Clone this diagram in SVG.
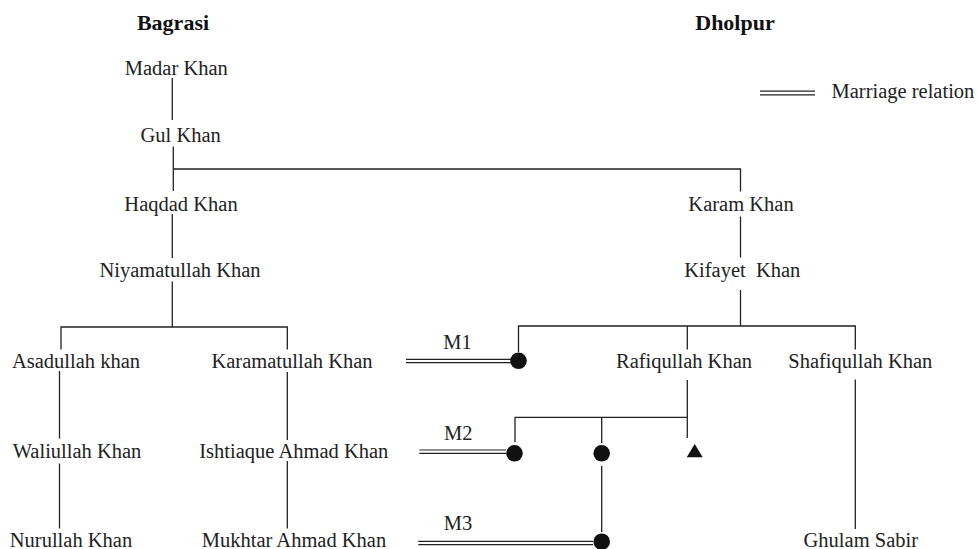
<svg xmlns="http://www.w3.org/2000/svg" width="977" height="549" viewBox="0 0 977 549">
  <style>
    .name { font-family: "Liberation Serif", "Times New Roman", serif; font-size: 20.5px; fill: #222; text-anchor: middle; }
    .title { font-family: "Liberation Serif", "Times New Roman", serif; font-size: 22px; font-weight: bold; fill: #111; text-anchor: middle; }
    .lab { font-family: "Liberation Serif", "Times New Roman", serif; font-size: 20.5px; fill: #222; }
    .link { stroke: #222; stroke-width: 1.3; fill: none; }
    .marr { stroke: #222; stroke-width: 1.2; fill: none; }
    .dot { fill: #111; }
  </style>
  <rect width="977" height="549" fill="#fff"/>

  <!-- column headings -->
  <text class="title" x="173" y="30">Bagrasi</text>
  <text class="title" x="735" y="30">Dholpur</text>

  <!-- legend -->
  <g id="legend">
    <line class="marr" x1="760" y1="91.2" x2="815" y2="91.2"/>
    <line class="marr" x1="760" y1="94.8" x2="815" y2="94.8"/>
    <text class="lab" x="831.5" y="97.5">Marriage relation</text>
  </g>

  <!-- descent lines and marriage links -->
  <g id="connectors">
    <path class="link" d="M172.3 78 V120"/>
    <path class="link" d="M173.3 146.5 V191"/>
    <path class="link" d="M173.3 169 H740.5 V191.5"/>
    <path class="link" d="M740.5 216.5 V257.5"/>
    <path class="link" d="M740.5 290 V326"/>
    <path class="link" d="M172.3 214 V258"/>
    <path class="link" d="M172.3 281.5 V327"/>
    <path class="link" d="M61 349.5 V327 H287.3 V349.5"/>
    <path class="link" d="M518.5 352 V326 H855.3 V349.5"/>
    <path class="link" d="M687.3 326 V349.5"/>
    <path class="link" d="M59.5 371 V438.5"/>
    <path class="link" d="M59.5 463.5 V528.5"/>
    <path class="link" d="M287.3 372 V440"/>
    <path class="link" d="M287.3 461 V528.5"/>
    <path class="link" d="M855.3 379.5 V529"/>
    <path class="link" d="M687.3 380 V438"/>
    <path class="link" d="M515 442 V417.3 H687.3"/>
    <path class="link" d="M601.7 417.3 V443"/>
    <path class="link" d="M601.7 466 V532"/>
    <!-- M1 -->
    <line class="marr" x1="406" y1="359.3" x2="511" y2="359.3"/>
    <line class="marr" x1="406" y1="362.7" x2="511" y2="362.7"/>
    <text class="lab" x="457.5" y="348.5" text-anchor="middle">M1</text>
    <!-- M2 -->
    <line class="marr" x1="419.3" y1="450" x2="506" y2="450"/>
    <line class="marr" x1="419.3" y1="453.4" x2="506" y2="453.4"/>
    <text class="lab" x="458.3" y="440" text-anchor="middle">M2</text>
    <!-- M3 -->
    <line class="marr" x1="418.3" y1="541.3" x2="593" y2="541.3"/>
    <line class="marr" x1="418.3" y1="544.7" x2="593" y2="544.7"/>
    <text class="lab" x="458" y="530" text-anchor="middle">M3</text>
  </g>

  <!-- Bagrasi line -->
  <g id="madar-khan"><text class="name" x="176.3" y="75">Madar Khan</text></g>
  <g id="gul-khan"><text class="name" x="180.7" y="142">Gul Khan</text></g>
  <g id="haqdad-khan"><text class="name" x="181" y="210.5">Haqdad Khan</text></g>
  <g id="niyamatullah-khan"><text class="name" x="180" y="277">Niyamatullah Khan</text></g>
  <g id="asadullah-khan"><text class="name" x="76" y="367.7">Asadullah khan</text></g>
  <g id="karamatullah-khan"><text class="name" x="292" y="367.7">Karamatullah Khan</text></g>
  <g id="waliullah-khan"><text class="name" x="77" y="458">Waliullah Khan</text></g>
  <g id="ishtiaque-ahmad-khan"><text class="name" x="293.8" y="458">Ishtiaque Ahmad Khan</text></g>
  <g id="nurullah-khan"><text class="name" x="71" y="546.5">Nurullah Khan</text></g>
  <g id="mukhtar-ahmad-khan"><text class="name" x="294" y="546.5">Mukhtar Ahmad Khan</text></g>

  <!-- Dholpur line -->
  <g id="karam-khan"><text class="name" x="741" y="210.5">Karam Khan</text></g>
  <g id="kifayet-khan"><text class="name" x="742.3" y="277" xml:space="preserve">Kifayet  Khan</text></g>
  <g id="rafiqullah-khan"><text class="name" x="684" y="367.7">Rafiqullah Khan</text></g>
  <g id="shafiqullah-khan"><text class="name" x="860.3" y="367.7">Shafiqullah Khan</text></g>
  <g id="ghulam-sabir"><text class="name" x="860.8" y="546.5">Ghulam Sabir</text></g>

  <!-- daughters (filled circles) and son (filled triangle) -->
  <g id="daughter-m1"><circle class="dot" cx="518.5" cy="360.8" r="8.3"/></g>
  <g id="daughter-m2"><circle class="dot" cx="514.5" cy="453.3" r="8.3"/></g>
  <g id="daughter-mid"><circle class="dot" cx="601.7" cy="453.3" r="8.3"/></g>
  <g id="son"><polygon class="dot" points="694.7,444 702.7,457.3 686.7,457.3"/></g>
  <g id="daughter-m3"><circle class="dot" cx="601.7" cy="541.7" r="8.3"/></g>
</svg>
